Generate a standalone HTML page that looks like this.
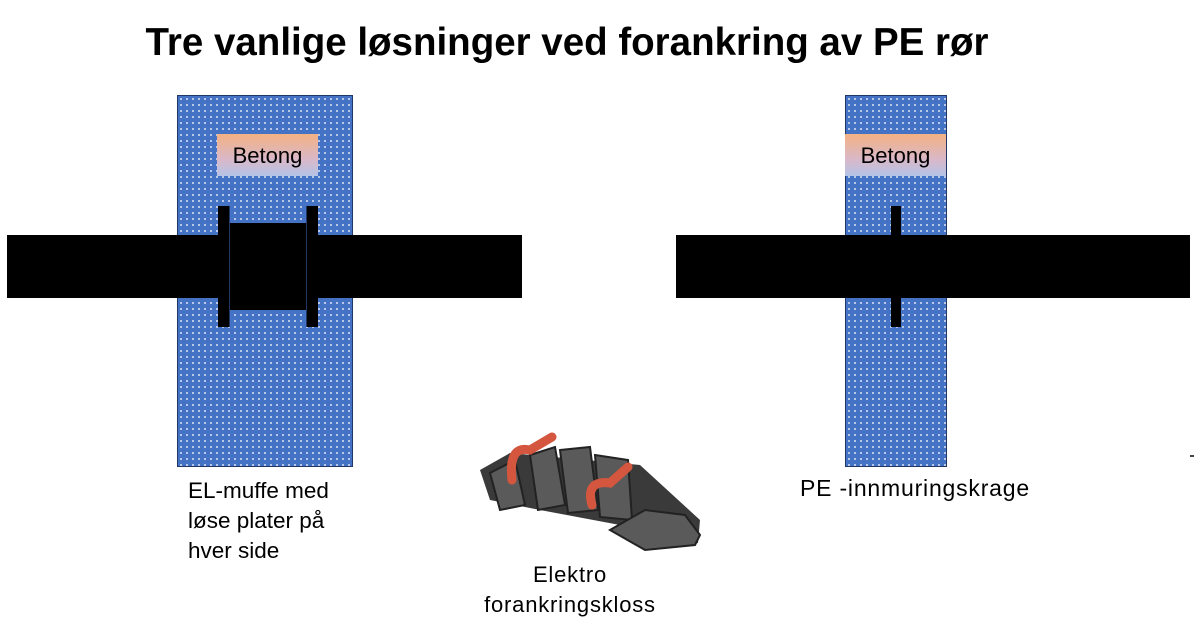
<!DOCTYPE html>
<html><head><meta charset="utf-8"><style>
body{margin:0;width:1197px;height:637px;background:#fff;position:relative;overflow:hidden;font-family:"Liberation Sans",sans-serif;}
.a{position:absolute;}
.blk{background-color:#4472c4;background-image:radial-gradient(circle,#c9d6ee 0.9px,transparent 1.2px);background-size:6px 6px;border:1px solid #1f3864;box-sizing:border-box;}
.bet{background:linear-gradient(#f4b183,#d9b8c8 60%,#b4c3e8);font-size:22px;color:#000;text-align:center;line-height:44px;}
.blk0{background:#000;}
.lbl{font-size:22.5px;line-height:30px;color:#000;white-space:nowrap;}
</style></head><body>
<div class="a" style="left:0;top:21px;width:1134px;text-align:center;font-weight:bold;font-size:38.5px;">Tre vanlige løsninger ved forankring av PE rør</div>

<div class="a blk" style="left:177px;top:95px;width:176px;height:372px;"></div>
<div class="a bet" style="left:217px;top:134px;width:101px;height:42px;">Betong</div>
<div class="a blk0" style="left:7px;top:235px;width:515px;height:63px;"></div>
<div class="a blk0" style="left:228px;top:223px;width:80px;height:87px;"></div>
<div class="a blk0" style="left:218px;top:206px;width:11px;height:121px;border-right:1px solid #1f3864"></div>
<div class="a blk0" style="left:306px;top:206px;width:11px;height:121px;border-left:1px solid #1f3864"></div>
<div class="a lbl" style="left:188px;top:476px;">EL-muffe med<br>løse plater på<br>hver side</div>

<div class="a blk" style="left:845px;top:95px;width:102px;height:372px;"></div>
<div class="a bet" style="left:845px;top:134px;width:101px;height:42px;">Betong</div>
<div class="a blk0" style="left:676px;top:235px;width:514px;height:63px;"></div>
<div class="a blk0" style="left:891px;top:206px;width:10px;height:121px;"></div>
<div class="a lbl" style="left:800px;top:473px;font-size:23px;letter-spacing:0.8px;">PE -innmuringskrage</div>
<div class="a" style="left:1190px;top:455px;width:4px;height:2px;background:#444"></div>

<svg class="a" style="left:470px;top:425px" width="235" height="130" viewBox="0 0 235 130">
<path d="M10 45 L40 28 L170 40 L230 95 L228 118 L200 122 L150 100 L70 85 L20 75 Z" fill="#3a3a3a"/>
<g fill="#5a5a5a" stroke="#222" stroke-width="2">
<path d="M20 48 L45 35 L55 80 L30 85 Z"/>
<path d="M60 30 L85 22 L95 80 L68 85 Z"/>
<path d="M90 25 L120 22 L128 85 L98 88 Z"/>
<path d="M125 30 L158 35 L162 95 L130 92 Z"/>
<path d="M140 105 L175 85 L215 90 L230 110 L225 120 L175 125 Z"/>
</g>
<path d="M42 55 Q38 20 60 25 L82 12" stroke="#d5563e" stroke-width="9" fill="none" stroke-linecap="round"/>
<path d="M122 80 Q115 55 140 58 L158 42" stroke="#d5563e" stroke-width="9" fill="none" stroke-linecap="round"/>
</svg>
<div class="a lbl" style="left:470px;top:560px;width:200px;text-align:center;font-size:22px;letter-spacing:0.8px;">Elektro<br>forankringskloss</div>
</body></html>
